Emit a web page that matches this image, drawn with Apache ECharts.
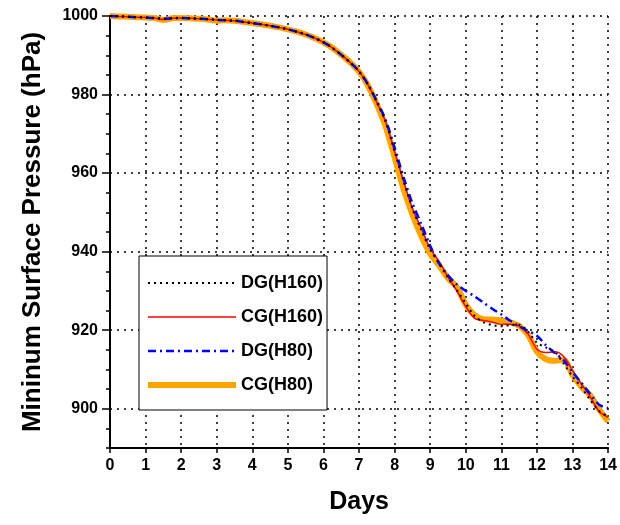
<!DOCTYPE html>
<html>
<head>
<meta charset="utf-8">
<script src="https://cdn.jsdelivr.net/npm/echarts@6/dist/echarts.min.js"></script>
<style>
  html, body { margin: 0; padding: 0; background: #fff; }
  #chart { width: 620px; height: 525px; }
</style>
</head>
<body>
<div id="chart"></div>
<script>
// minimum surface pressure (hPa), sampled every 0.25 day from day 0 to 14
const step = 0.25
const dgH160 = [
  1000.0, 999.9, 999.8, 999.7, 999.6, 999.5, 999.3, 999.4, 999.5, 999.4,
  999.3, 999.2, 999.0, 998.9, 998.8, 998.5, 998.2, 997.9, 997.5, 997.1,
  996.6, 996.0, 995.3, 994.4, 993.3, 991.9, 990.1, 988.2, 985.9, 982.5,
  978.0, 973.0, 965.5, 958.0, 951.0, 945.5, 940.5, 937.0, 933.3, 930.2,
  926.8, 923.6, 922.0, 921.3, 921.0, 921.3, 921.4, 919.6, 916.8, 915.6,
  914.5, 911.5, 908.2, 905.4, 902.2, 899.4, 898.0
]
const cgH160 = [
  1000.0, 999.9, 999.8, 999.7, 999.6, 999.5, 999.1, 999.4, 999.5, 999.4,
  999.3, 999.2, 999.0, 998.9, 998.8, 998.5, 998.2, 997.9, 997.5, 997.1,
  996.6, 996.0, 995.3, 994.4, 993.3, 991.9, 990.1, 988.2, 985.9, 982.5,
  978.0, 973.0, 965.5, 958.0, 951.0, 946.0, 940.8, 937.5, 933.5, 930.0,
  926.0, 923.0, 922.5, 922.0, 921.5, 921.5, 921.0, 919.0, 915.2, 914.3,
  914.5, 913.3, 909.8, 906.3, 903.0, 899.3, 897.8
]
const dgH80 = [
  1000.0, 999.9, 999.8, 999.7, 999.6, 999.5, 999.3, 999.4, 999.5, 999.4,
  999.3, 999.2, 999.0, 998.9, 998.8, 998.5, 998.2, 997.9, 997.5, 997.1,
  996.6, 996.0, 995.3, 994.4, 993.3, 991.9, 990.1, 988.2, 985.9, 982.6,
  978.3, 973.5, 966.5, 959.0, 952.3, 947.0, 941.5, 937.0, 934.0, 931.6,
  930.0, 928.6, 927.0, 925.4, 924.0, 922.4, 921.0, 919.8, 918.6, 916.2,
  914.2, 912.4, 909.3, 906.6, 903.7, 901.0, 900.2
]
const cgH80 = [
  1000.0, 999.9, 999.8, 999.7, 999.6, 999.5, 999.0, 999.4, 999.5, 999.4,
  999.3, 999.1, 998.8, 998.9, 998.8, 998.5, 998.2, 997.9, 997.5, 997.1,
  996.6, 996.0, 995.3, 994.4, 993.3, 991.9, 990.1, 988.2, 985.8, 982.3,
  977.5, 971.8, 964.0, 956.0, 949.5, 944.0, 939.5, 936.5, 933.2, 931.0,
  926.5, 923.8, 922.8, 922.7, 922.5, 922.0, 921.1, 918.8, 914.5, 912.6,
  912.2, 912.4, 908.6, 905.6, 903.4, 899.8, 896.8
]
const yLabelTicks = [900, 920, 940, 960, 980, 1000]
const seriesNames = ['DG(H160)', 'CG(H160)', 'DG(H80)', 'CG(H80)']

const days = dgH160.map((_, i) => i * step)
const pairs = arr => arr.map((v, i) => [days[i], v])

const font = 'Liberation Sans'
const styles = [
  { color: '#000', width: 2, type: [2, 4] },
  { color: '#ff0000', width: 1.5, type: 'solid' },
  { color: '#0000ff', width: 2.5, type: [8, 4, 2, 4] },
  { color: '#ffa500', width: 6, type: 'solid' }
]
const zs = [5, 3, 4, 2]

const chart = echarts.init(document.getElementById('chart'))

chart.setOption({
  animation: false,
  backgroundColor: '#fff',
  grid: { left: 110, right: 10, top: 16, bottom: 77 },
  legend: {
    orient: 'vertical',
    left: 139,
    top: 256,
    padding: [18, 4, 16, 6],
    itemGap: 16,
    itemWidth: 88,
    itemHeight: 14,
    backgroundColor: '#fff',
    borderColor: '#000',
    borderWidth: 1,
    itemStyle: { opacity: 0 },
    textStyle: { fontFamily: font, fontSize: 18, fontWeight: 'bold', color: '#000', lineHeight: 18 },
    data: seriesNames.map((name, i) => ({ name, lineStyle: { width: styles[i].width, type: styles[i].type, color: styles[i].color } }))
  },
  xAxis: {
    type: 'value',
    min: 0,
    max: 14,
    interval: 1,
    name: 'Days',
    nameLocation: 'middle',
    nameGap: 42,
    nameTextStyle: { fontFamily: font, fontSize: 25, fontWeight: 'bold', color: '#000' },
    axisLine: { lineStyle: { color: '#000', width: 2 } },
    axisTick: { length: 5, lineStyle: { color: '#000', width: 1.5 } },
    axisLabel: { fontFamily: font, fontSize: 16, fontWeight: 'bold', color: '#000', margin: 10 },
    splitLine: { show: true, lineStyle: { color: '#000', width: 1.5, type: [2, 5] } }
  },
  yAxis: [{
    type: 'value',
    min: 890,
    max: 1000,
    interval: 5,
    name: 'Mininum Surface Pressure (hPa)',
    nameLocation: 'middle',
    nameGap: 64,
    nameTextStyle: { fontFamily: font, fontSize: 26, fontWeight: 'bold', color: '#000' },
    axisLine: { show: true, lineStyle: { color: '#000', width: 2 } },
    axisTick: { length: 4, lineStyle: { color: '#000', width: 1.5 } },
    axisLabel: {
      fontFamily: font, fontSize: 16, fontWeight: 'bold', color: '#000', margin: 12,
      formatter: v => (yLabelTicks.includes(v) ? String(v) : '')
    },
    splitLine: { show: false }
  }, {
    type: 'value',
    min: 890,
    max: 1000,
    position: 'left',
    axisLine: { show: false },
    axisTick: { show: true, length: 8, customValues: yLabelTicks, lineStyle: { color: '#000', width: 1.5 } },
    axisLabel: { show: false },
    splitLine: { show: true, lineStyle: { color: '#000', width: 1.5, type: [2, 5] } }
  }],
  series: [dgH160, cgH160, dgH80, cgH80].map((arr, i) => ({
    name: seriesNames[i],
    type: 'line',
    data: pairs(arr),
    symbol: 'none',
    smooth: 0.3,
    z: zs[i],
    lineStyle: styles[i],
    itemStyle: { color: styles[i].color }
  }))
})
</script>
</body>
</html>
